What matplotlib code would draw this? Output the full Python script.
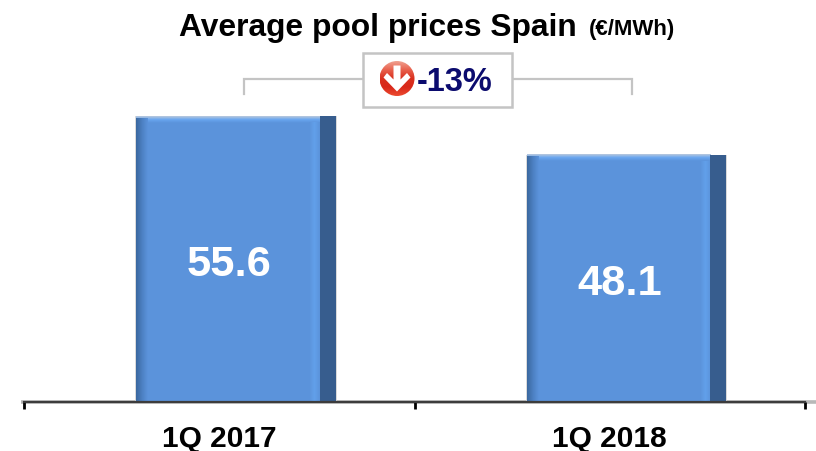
import numpy as np
import matplotlib
matplotlib.use("Agg")
import matplotlib.pyplot as plt
from matplotlib.patches import Circle, Polygon, Rectangle
from matplotlib.colors import LinearSegmentedColormap

categories = ["1Q 2017", "1Q 2018"]
values = [55.6, 48.1]
value_labels = ["55.6", "48.1"]
title_main = "Average pool prices Spain"
title_unit = "(€/MWh)"
change_label = "-13%"

plt.rcParams["font.family"] = ["Liberation Sans", "DejaVu Sans"]
W, H = 816, 452
fig = plt.figure(figsize=(W / 100, H / 100), dpi=100)
fig.patch.set_facecolor("white")

# chart axes: x=24..805 px, baseline at y=403 px, 5.144 px per unit
PX_PER_UNIT = 5.144
ax = fig.add_axes([24 / W, (H - 403) / H, (805 - 24) / W, 403 / H])
ax.patch.set_alpha(0)
for s in ["top", "left", "right"]:
    ax.spines[s].set_visible(False)
ax.spines["bottom"].set_color("#3c3c3c")
ax.spines["bottom"].set_linewidth(1.6)
ax.spines["bottom"].set_zorder(8)
ax.set_yticks([])
ax.set_xticks([0, 1, 2])
ax.set_xticklabels([])
ax.tick_params(axis="x", length=5, width=2, color="#000000", direction="out")
ax.set_xticks([0.5, 1.5], minor=True)
ax.set_xticklabels(categories, minor=True, fontsize=21.5, fontweight="bold", color="black")
ax.tick_params(axis="x", which="minor", length=0, pad=15.6)

slots = np.array([0.5, 1.5])
xpos = slots + 0.043          # bars sit right of their tick-centred labels
bw = 0.51
main = "#5B93DB"
ax.bar(xpos, values, width=bw + 0.006, color="#DADADA", zorder=1, linewidth=0)
ax.bar(xpos, values, width=bw, color=main, zorder=2, linewidth=0)

left_cmap = LinearSegmentedColormap.from_list("l", ["#3A689F", "#4C80C2", "#5B93DB"])
right_cmap = LinearSegmentedColormap.from_list("r", ["#5B93DB", "#62A0EA", "#5B93DB"])
top_cmap = LinearSegmentedColormap.from_list("t", ["#5B93DB", "#69A6F0", "#B9C9DD"])
grad = np.linspace(0, 1, 32)
dark = "#375D8E"
for x, v in zip(xpos, values):
    x0, x1 = x - bw / 2, x + bw / 2
    ax.imshow(grad[:, None], cmap=top_cmap, aspect="auto", origin="lower",
              extent=(x0, x1 - 0.041, v - 1.3, v), zorder=4)
    ax.imshow(grad[None, :], cmap=left_cmap, aspect="auto",
              extent=(x0, x0 + 0.03, 0, v - 0.4), zorder=5)
    ax.imshow(grad[None, :], cmap=right_cmap, aspect="auto",
              extent=(x1 - 0.068, x1 - 0.041, 0, v - 1.3), zorder=5)
    ax.bar(x1 - 0.0205, v, width=0.041, color=dark, zorder=6, linewidth=0)
ax.set_aspect("auto")
ax.set_xlim(0, 2)
ax.set_ylim(0, 403 / PX_PER_UNIT)

label_x = slots + 0.025
for x, v, lab in zip(label_x, values, value_labels):
    ax.annotate(lab, (x, v / 2), xytext=(0, -3.7), textcoords="offset points", ha="center", va="center",
                color="white", fontsize=31.3, fontweight="bold", zorder=7)

# overlay in pixel coordinates for title and callout, behind the chart axes
ov = fig.add_axes([0, 0, 1, 1])
ov.set_zorder(-1)
ov.set_xlim(0, W)
ov.set_ylim(H, 0)
ov.axis("off")
ov.patch.set_alpha(0)

ov.plot([21, 816], [403, 403], color="#B8B8B8", lw=2.6, solid_capstyle="butt")

ov.text(179, 28, title_main, ha="left", va="center", fontsize=22.9, fontweight="bold", color="black")
ov.text(589, 29, title_unit, ha="left", va="center", fontsize=16, fontweight="bold", color="black")

grey = "#C4C4C4"
ov.plot([244, 244, 362], [95, 80, 80], color=grey, lw=1.6, solid_joinstyle="miter")
ov.plot([512, 632, 632], [80, 80, 95], color=grey, lw=1.6, solid_joinstyle="miter")
ov.add_patch(Rectangle((362.5, 53.5), 149, 54, fc="white", ec=grey, lw=1.8, zorder=3))

# down-arrow icon
cx, cy, r = 397, 79.5, 17.5
red_cmap = LinearSegmentedColormap.from_list("red", ["#F0A090", "#E8604C", "#D9301E", "#D8281A", "#EC4A30"])
im = ov.imshow(np.linspace(0, 1, 64)[:, None], cmap=red_cmap, aspect="auto",
               extent=(cx - r, cx + r, cy + r, cy - r), origin="upper", zorder=4)
clip = Circle((cx, cy), r, transform=ov.transData, fc="none", ec="none")
ov.add_patch(clip)
im.set_clip_path(clip)
ov.set_xlim(0, W)
ov.set_ylim(H, 0)
arrow = [(cx - 3.5, cy - 13), (cx + 3.5, cy - 13), (cx + 3.5, cy + 1), (cx + 10, cy - 5.5), (cx + 13.5, cy - 1),
         (cx, cy + 13), (cx - 13.5, cy - 1), (cx - 10, cy - 5.5), (cx - 3.5, cy + 1)]
ov.add_patch(Polygon(arrow, closed=True, fc="white", ec="none", zorder=5))

ov.text(417, 82.5, change_label, ha="left", va="center", fontsize=23.5, fontweight="bold",
        color="#0B0B6E", zorder=5)

fig.savefig("out.png", dpi=100)
